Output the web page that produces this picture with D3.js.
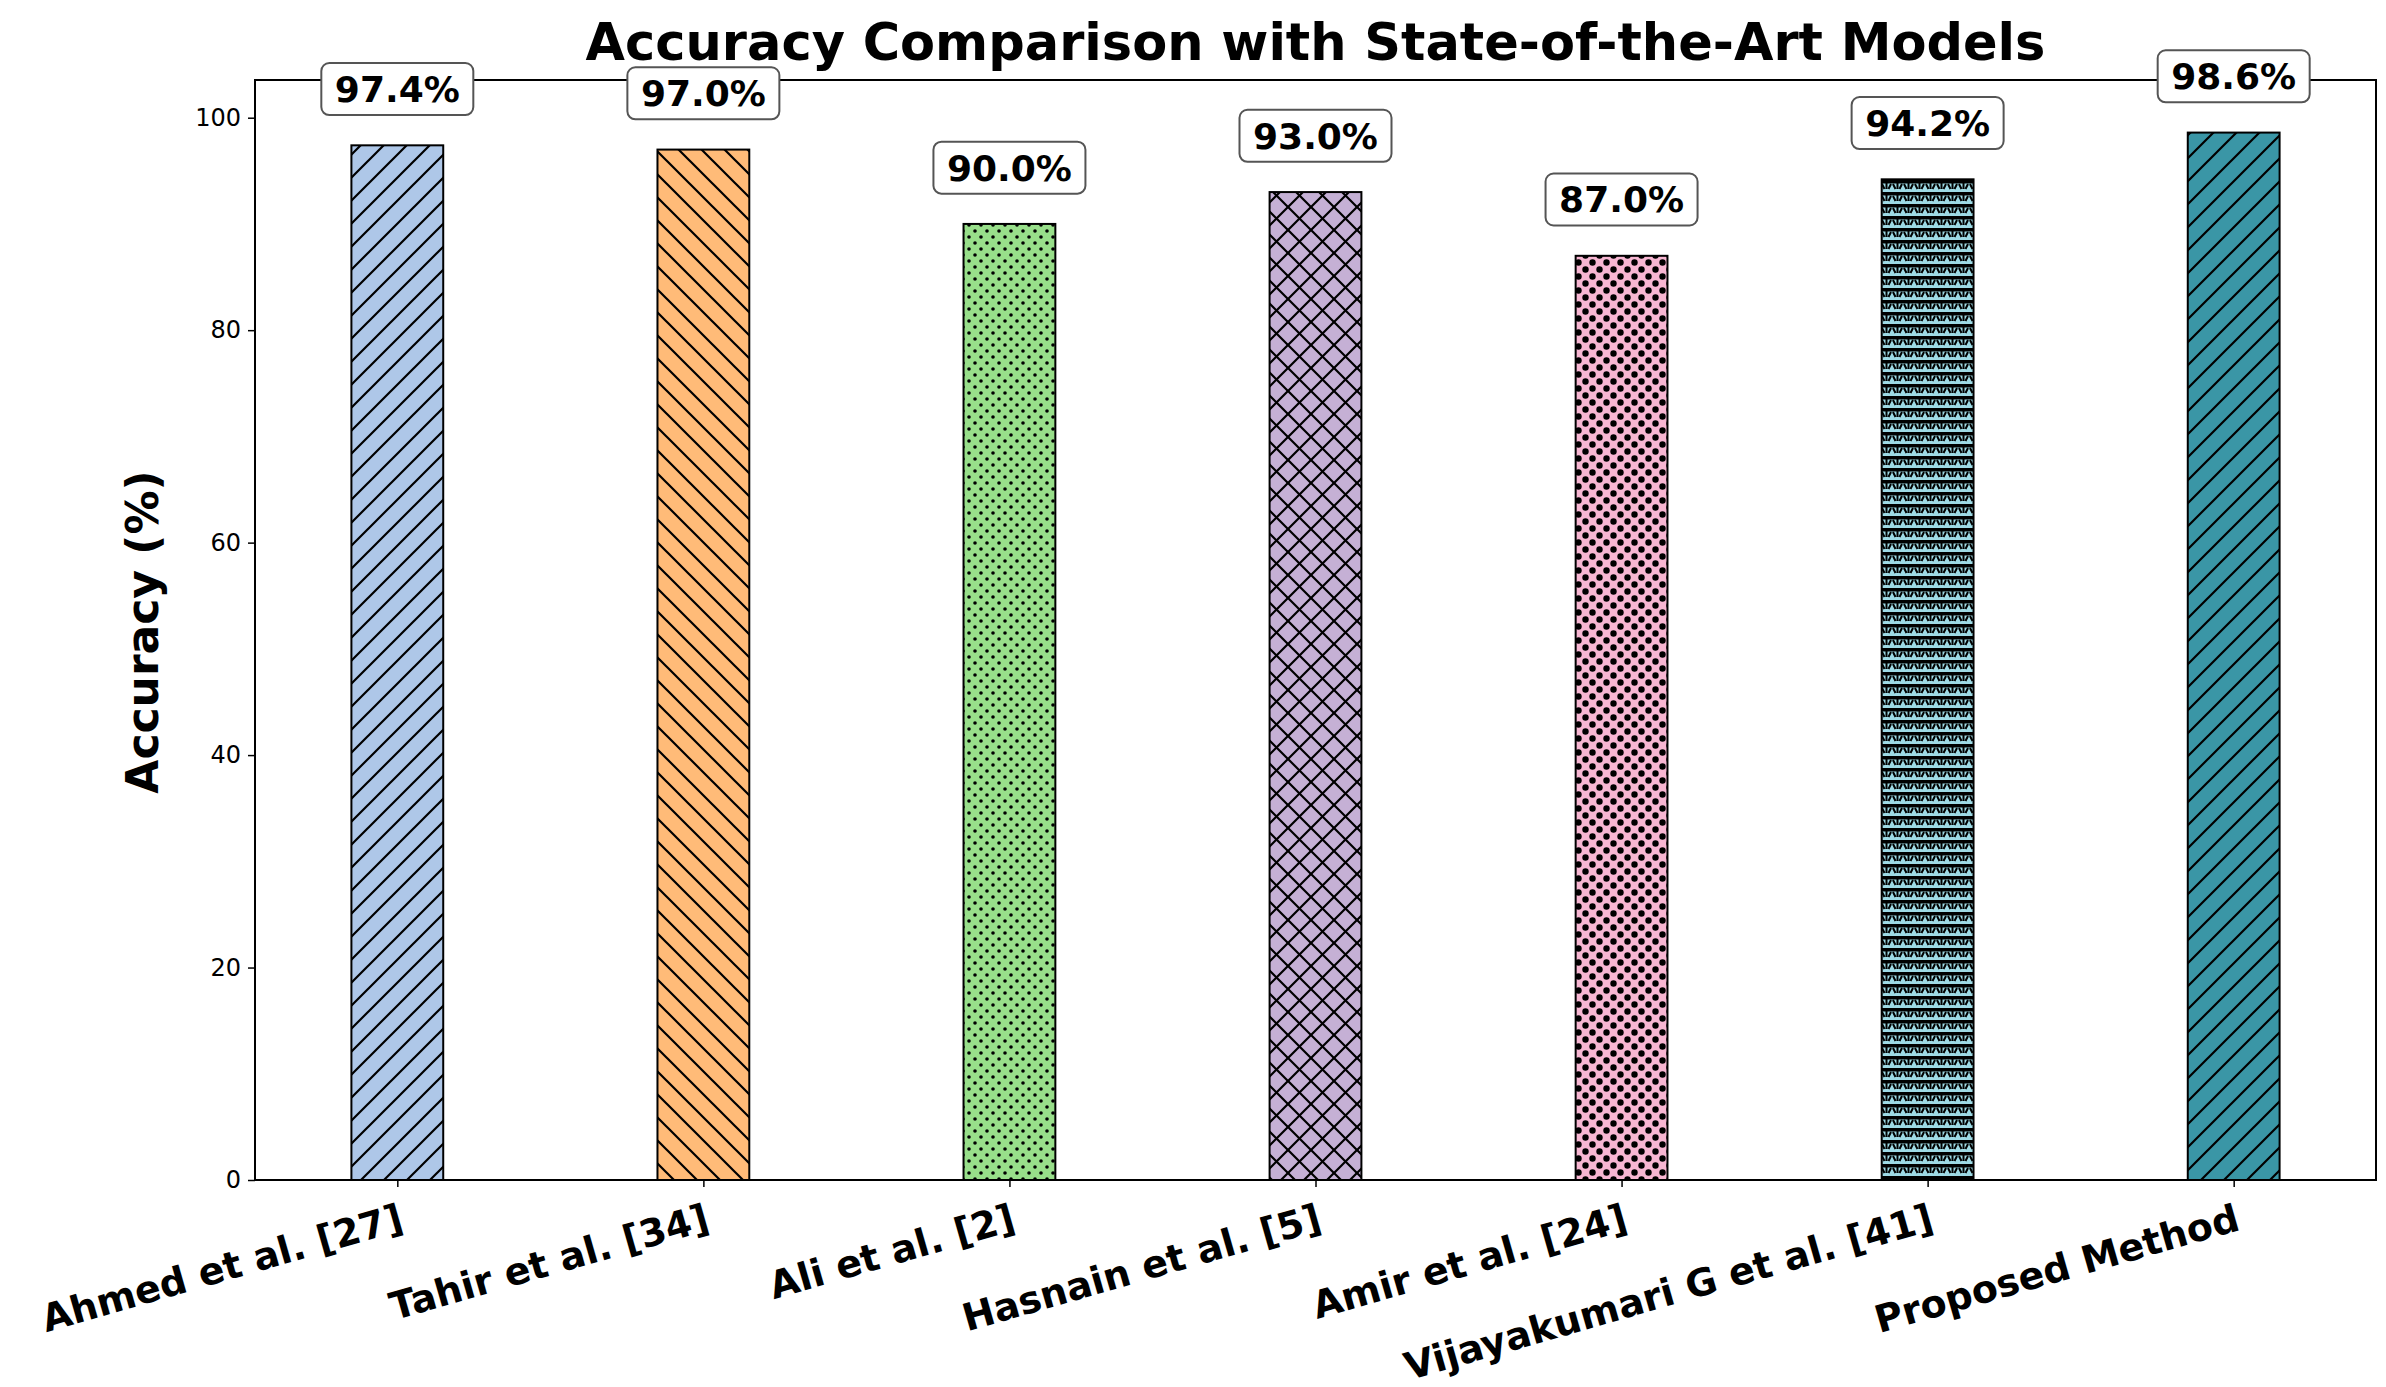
<!DOCTYPE html>
<html><head><meta charset="utf-8">
<script src="https://cdn.jsdelivr.net/npm/d3@7"></script>
<style>body{margin:0;background:#fff}text{font-family:"DejaVu Sans",sans-serif}</style>
</head><body><svg id="chart"></svg>
<script>
const categories = ['Ahmed et al. [27]', 'Tahir et al. [34]', 'Ali et al. [2]', 'Hasnain et al. [5]',
    'Amir et al. [24]', 'Vijayakumari G et al. [41]', 'Proposed Method'];
const accuracy = [97.4, 97.0, 90.0, 93.0, 87.0, 94.2, 98.6];
const colors = ['#aec7e8', '#ffbb78', '#98df8a', '#c5b0d5', '#f7b6d2', '#9edae5', '#3a96a6'];
const hatches = ['fwd', 'back', 'dots', 'cross', 'bigdots', 'stars', 'fwd'];
const yTicks = [0, 20, 40, 60, 80, 100];

const W = 2386, H = 1387,
    m = {left: 255, right: 2376, top: 80, bottom: 1180};

const svg = d3.select('#chart').attr('width', W).attr('height', H);

const x = d3.scaleLinear().domain([-0.465, categories.length - 1 + 0.465]).range([m.left, m.right]);
const y = d3.scaleLinear().domain([0, 103.55]).range([m.bottom, m.top]);
const bw = x(0.3) - x(0);

// hatch patterns
const defs = svg.append('defs');
colors.forEach((c, i) => {
    const s = 23,
        p = defs.append('pattern').attr('id', 'h' + i)
        .attr('patternUnits', 'userSpaceOnUse').attr('width', s).attr('height', s);
    p.append('rect').attr('width', s).attr('height', s).attr('fill', c);
    const k = hatches[i];
    if (k === 'fwd' || k === 'cross')
        p.append('path').attr('d', `M0,${s} L${s},0 M-${s/2},${s/2} L${s/2},-${s/2} M${s/2},${s*1.5} L${s*1.5},${s/2}`)
        .attr('stroke', '#000').attr('stroke-width', 2.2);
    if (k === 'back' || k === 'cross')
        p.append('path').attr('d', `M0,0 L${s},${s} M-${s/2},${s/2} L${s/2},${s*1.5} M${s/2},-${s/2} L${s*1.5},${s/2}`)
        .attr('stroke', '#000').attr('stroke-width', 2.2);
    if (k === 'dots') {
        p.attr('width', 12).attr('height', 12);
        p.append('circle').attr('cx', 3).attr('cy', 3).attr('r', 1.8);
        p.append('circle').attr('cx', 9).attr('cy', 9).attr('r', 1.8);
    }
    if (k === 'bigdots') {
        p.attr('width', 14).attr('height', 14);
        p.append('circle').attr('cx', 3.5).attr('cy', 3.5).attr('r', 3.2);
        p.append('circle').attr('cx', 10.5).attr('cy', 10.5).attr('r', 3.2);
    }
    if (k === 'stars') {
        p.attr('width', 11).attr('height', 12);
        p.append('rect').attr('y', 0).attr('width', 11).attr('height', 3.5).attr('fill', '#000');
        p.append('path').attr('d', 'M5.5,3 L5.5,9 M1,4 L3.5,9 M10,4 L7.5,9').attr('stroke', '#000').attr('stroke-width', 2);
    }
});

// bars
svg.append('g').selectAll('rect').data(accuracy).enter().append('rect')
    .attr('x', (d, i) => x(i) - bw / 2)
    .attr('y', d => y(d))
    .attr('width', bw)
    .attr('height', d => y(0) - y(d))
    .attr('fill', (d, i) => `url(#h${i})`)
    .attr('stroke', '#000').attr('stroke-width', 2);

// frame
svg.append('rect').attr('x', m.left).attr('y', m.top)
    .attr('width', m.right - m.left).attr('height', m.bottom - m.top)
    .attr('fill', 'none').attr('stroke', '#000').attr('stroke-width', 2);

// y axis
const ya = svg.append('g').attr('transform', `translate(${m.left},0)`)
    .call(d3.axisLeft(y).tickValues(yTicks).tickSize(7).tickPadding(7));
ya.select('.domain').remove();
ya.selectAll('text').attr('font-size', 24).attr('fill', '#000');
ya.selectAll('line').attr('stroke-width', 1.5);

// x axis
const xa = svg.append('g').attr('transform', `translate(0,${m.bottom})`)
    .call(d3.axisBottom(x).tickValues(d3.range(categories.length)).tickSize(7).tickFormat(''));
xa.select('.domain').remove();
xa.selectAll('line').attr('stroke-width', 1.5);
svg.append('g').selectAll('text').data(categories).enter().append('text')
    .attr('transform', (d, i) => `translate(${x(i)},${m.bottom + 22}) rotate(-16)`)
    .attr('text-anchor', 'end').attr('dy', '0.75em')
    .attr('font-size', 38).attr('font-weight', 'bold').text(d => d);

// value labels
const lab = svg.append('g').selectAll('g').data(accuracy).enter().append('g')
    .attr('transform', (d, i) => `translate(${x(i)},${y(d + 5.3)})`);
lab.append('rect').attr('x', -76).attr('y', -26).attr('width', 152).attr('height', 52)
    .attr('rx', 8).attr('fill', '#fff').attr('stroke', '#555').attr('stroke-width', 2);
lab.append('text').attr('text-anchor', 'middle').attr('dy', '0.36em')
    .attr('font-size', 36).attr('font-weight', 'bold').text(d => d.toFixed(1) + '%');

// titles
svg.append('text').attr('x', (m.left + m.right) / 2).attr('y', 60).attr('text-anchor', 'middle')
    .attr('font-size', 51).attr('font-weight', 'bold').text('Accuracy Comparison with State-of-the-Art Models');
svg.append('text').attr('transform', `translate(158,${(m.top + m.bottom) / 2 + 2}) rotate(-90)`)
    .attr('text-anchor', 'middle').attr('font-size', 44).attr('font-weight', 'bold').text('Accuracy (%)');
</script></body></html>
